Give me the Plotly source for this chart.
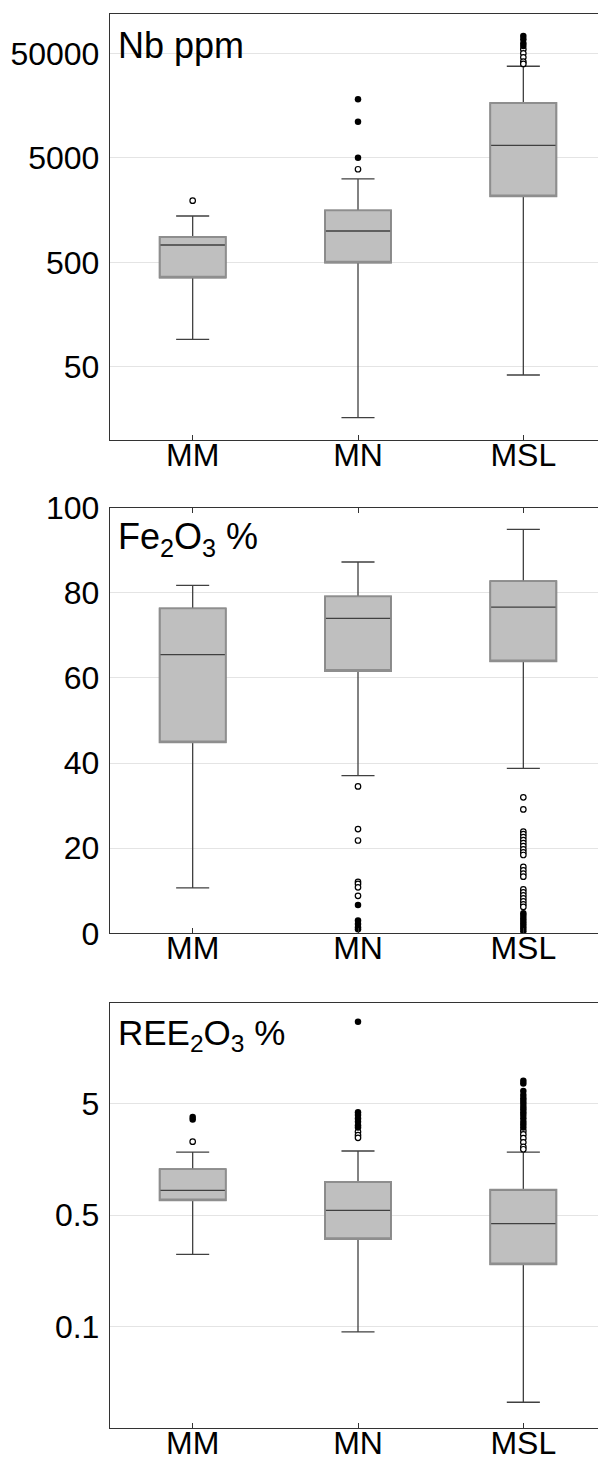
import plotly.graph_objects as go

cats = ["MM", "MN", "MSL"]

# ---- Nb ppm (log) ----
nb_q1 = [358, 498, 2150]
nb_med = [735, 1000, 6610]
nb_q3 = [877, 1578, 16800]
nb_lo = [92, 16.4, 41.9]
nb_hi = [1393, 3150, 37740]
nb_open_mm = [1950]
nb_open_mn = [3900]
nb_open_msl = [54800, 50200, 46000, 41800, 39700]
nb_fill_mn = [18240, 11120, 5030]
nb_fill_msl = [73400, 68400, 62600, 59000]
nb_ticks = [50, 500, 5000, 50000]
nb_ticktext = ["50", "500", "5000", "50000"]

# ---- Fe2O3 % (linear) ----
fe_q1 = [44.87, 61.63, 63.9]
fe_med = [65.47, 74.0, 76.66]
fe_q3 = [76.35, 79.17, 82.77]
fe_lo = [10.65, 37.04, 38.76]
fe_hi = [81.75, 87.24, 94.9]
fe_open_mn = [34.5, 24.5, 21.8, 12.1, 11.6, 10.8, 8.8]
fe_fill_mn = [6.65, 3.0, 2.2, 1.4, 0.94]
fe_open_msl = [31.95, 29.1, 23.9, 23.3, 22.6, 21.9, 21.2, 20.5, 19.7, 19.0, 18.4,
               15.6, 14.8, 14.0, 13.3, 10.3, 9.6, 8.9, 8.2, 7.5, 6.8, 6.2]
fe_fill_msl = [4.7, 4.1, 3.5, 2.9, 2.3, 1.7, 1.1, 0.5]

# ---- REE2O3 % (log) ----
ree_q1 = [0.678, 0.304, 0.180]
ree_med = [0.834, 0.551, 0.418]
ree_q3 = [1.29, 0.99, 0.843]
ree_lo = [0.222, 0.0445, 0.0104]
ree_hi = [1.84, 1.88, 1.84]
ree_open_mm = [2.28]
ree_fill_mm = [3.8, 3.6]
ree_fill_mn = [27.3, 4.18, 3.95, 3.69, 3.44, 3.21, 3.06]
ree_open_mn = [2.80, 2.61, 2.47]
ree_fill_msl = [8.05, 7.6, 6.5, 6.0, 5.6, 5.3, 5.0, 4.7, 4.45, 4.2, 3.95, 3.7, 3.45, 3.25, 3.05]
ree_open_msl = [2.85, 2.65, 2.45, 2.25, 2.05, 1.95]
ree_ticks = [0.05, 0.5, 5]
ree_ticktext = ["0.1", "0.5", "5"]

FONT = "Liberation Sans, Arial, sans-serif"
FILL = "#bfbfbf"
DARK = "#404040"
EDGE = "#8e8e8e"

fig = go.Figure()


def add_panel(xa, ya, q1, med, q3, lo, hi, opens, fills):
    fig.add_trace(go.Box(x=cats, q1=q1, median=med, q3=q3, lowerfence=lo, upperfence=hi,
                         boxpoints=False, width=0.4, whiskerwidth=0.5,
                         fillcolor=FILL, line=dict(color=DARK, width=1.3),
                         xaxis=xa, yaxis=ya, showlegend=False, hoverinfo="skip"))
    fig.add_trace(go.Box(x=cats, q1=q1, median=q1, q3=q3, lowerfence=q1, upperfence=q3,
                         boxpoints=False, width=0.4, whiskerwidth=0.5,
                         fillcolor="rgba(0,0,0,0)", line=dict(color=EDGE, width=1.8),
                         xaxis=xa, yaxis=ya, showlegend=False, hoverinfo="skip"))
    for cat, vals in opens:
        fig.add_trace(go.Scatter(x=[cat] * len(vals), y=vals, mode="markers",
                                 marker=dict(symbol="circle", size=5.5, color="white",
                                             line=dict(color="black", width=1.2)),
                                 xaxis=xa, yaxis=ya, showlegend=False, hoverinfo="skip"))
    for cat, vals in fills:
        fig.add_trace(go.Scatter(x=[cat] * len(vals), y=vals, mode="markers",
                                 marker=dict(symbol="circle", size=6.5, color="black"),
                                 xaxis=xa, yaxis=ya, showlegend=False, hoverinfo="skip"))


add_panel("x", "y", nb_q1, nb_med, nb_q3, nb_lo, nb_hi,
          [("MM", nb_open_mm), ("MN", nb_open_mn), ("MSL", nb_open_msl)],
          [("MN", nb_fill_mn), ("MSL", nb_fill_msl)])
add_panel("x2", "y2", fe_q1, fe_med, fe_q3, fe_lo, fe_hi,
          [("MN", fe_open_mn), ("MSL", fe_open_msl)],
          [("MN", fe_fill_mn), ("MSL", fe_fill_msl)])
add_panel("x3", "y3", ree_q1, ree_med, ree_q3, ree_lo, ree_hi,
          [("MM", ree_open_mm), ("MN", ree_open_mn), ("MSL", ree_open_msl)],
          [("MM", ree_fill_mm), ("MN", ree_fill_mn), ("MSL", ree_fill_msl)])

# page has an 8px body margin: figure is offset by PAD in both directions
PAD = 8
W = 606 - PAD
H = 1459.0 - PAD


def dom(top, bottom):
    return [1 - (bottom - PAD) / H, 1 - (top - PAD) / H]


doms = [dom(14, 440), dom(507.7, 933.3), dom(1003.3, 1428.3)]

xcommon = dict(type="category", categoryorder="array", categoryarray=cats, range=[-0.5, 2.5],
               showline=True, linecolor="#333333", linewidth=1.4, showgrid=False,
               ticks="inside", ticklen=5, tickcolor="#333333", automargin=False,
               ticklabelstandoff=-14,
               tickfont=dict(family=FONT, size=32, color="black"), domain=[0, 1])
ycommon = dict(showline=True, linecolor="#333333", linewidth=1.4, mirror=True,
               showgrid=True, gridcolor="#e4e4e4", gridwidth=1, zeroline=False,
               ticks="", ticklabelstandoff=3, automargin=False,
               tickfont=dict(family=FONT, size=32, color="black"))

layout = dict(width=W, height=int(H), margin=dict(l=110 - PAD, r=0, t=0, b=0, autoexpand=False),
              paper_bgcolor="white", plot_bgcolor="white", boxmode="overlay",
              showlegend=False)

layout["xaxis"] = dict(xcommon, anchor="y", mirror=True)
layout["xaxis2"] = dict(xcommon, anchor="y2", mirror="ticks")
layout["xaxis3"] = dict(xcommon, anchor="y3", mirror=True)
# top-edge ticks of the lowest panel (evenly spaced, unlabeled)
layout["xaxis4"] = dict(overlaying="x3", side="top", anchor="y3", range=[0, 3.48], dtick=1,
                        ticks="inside", ticklen=4, tickcolor="#333333", showticklabels=False,
                        showgrid=False, showline=False, zeroline=False, automargin=False)

layout["yaxis"] = dict(ycommon, type="log", range=[1.0, 5.077], tickvals=nb_ticks,
                       ticktext=nb_ticktext, domain=doms[0], anchor="x")
layout["yaxis2"] = dict(ycommon, type="linear", range=[0, 100], dtick=20,
                        domain=doms[1], anchor="x2")
layout["yaxis3"] = dict(ycommon, type="log", range=[-2.217, 1.601], tickvals=ree_ticks,
                        ticktext=ree_ticktext, domain=doms[2], anchor="x3")

right_common = dict(side="right", ticks="inside", ticklen=4, tickcolor="#333333",
                    showticklabels=False, showgrid=False, showline=False, zeroline=False,
                    dtick=1, fixedrange=True, automargin=False)
layout["yaxis4"] = dict(right_common, overlaying="y", anchor="x", range=[0, 9])
layout["yaxis5"] = dict(right_common, overlaying="y2", anchor="x2", range=[0, 5])
layout["yaxis6"] = dict(right_common, overlaying="y3", anchor="x3", range=[0, 7])

titles = [("Nb ppm", "x domain", "y domain", 0.927, 36),
          ("Fe<sub>2</sub>O<sub>3</sub> %", "x2 domain", "y2 domain", 0.9265, 36),
          ("REE<sub>2</sub>O<sub>3</sub> %", "x3 domain", "y3 domain", 0.9247, 35)]
layout["annotations"] = [dict(text=t, xref=xr, yref=yr, x=0.012, y=yy, xanchor="left",
                              yanchor="middle", showarrow=False,
                              font=dict(family=FONT, size=fs, color="black"))
                         for t, xr, yr, yy, fs in titles]

fig.update_layout(layout)
fig.write_html("out.html")
